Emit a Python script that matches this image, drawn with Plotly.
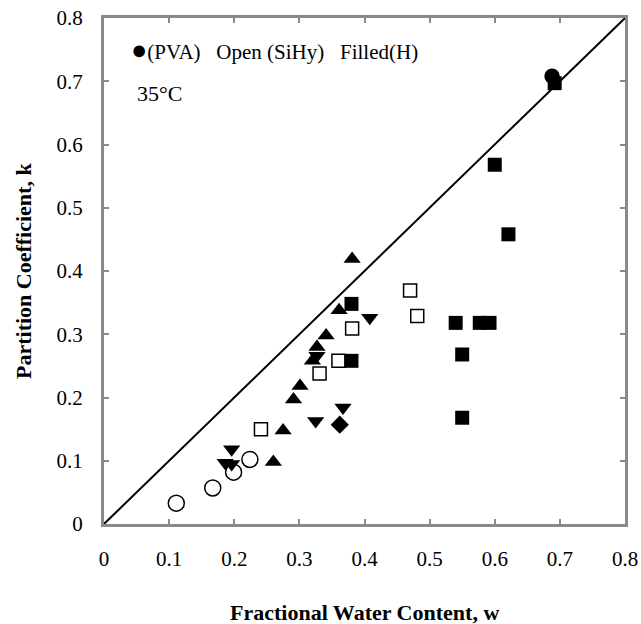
import plotly.graph_objects as go

# Open circles (SiHy, PVA-type)
open_circle_w = [0.111, 0.167, 0.199, 0.224]
open_circle_k = [0.033, 0.057, 0.082, 0.102]
# Filled circle
filled_circle_w = [0.688]
filled_circle_k = [0.708]
# Filled squares
filled_square_w = [0.692, 0.600, 0.621, 0.380, 0.380, 0.540, 0.577, 0.592, 0.550, 0.550]
filled_square_k = [0.697, 0.568, 0.458, 0.348, 0.258, 0.318, 0.318, 0.318, 0.268, 0.168]
# Open squares
open_square_w = [0.470, 0.481, 0.381, 0.360, 0.331, 0.241]
open_square_k = [0.369, 0.329, 0.309, 0.258, 0.238, 0.150]
# Filled up-triangles
up_tri_w = [0.381, 0.361, 0.341, 0.327, 0.320, 0.301, 0.291, 0.275, 0.260]
up_tri_k = [0.419, 0.338, 0.298, 0.280, 0.258, 0.218, 0.197, 0.148, 0.098]
# Filled down-triangles
down_tri_w = [0.408, 0.327, 0.367, 0.325, 0.196, 0.186, 0.196]
down_tri_k = [0.326, 0.266, 0.184, 0.163, 0.118, 0.097, 0.095]
# Filled diamond
diamond_w = [0.362]
diamond_k = [0.157]
# Identity line
line_w = [0, 0.8]
line_k = [0, 0.8]

tick_vals = [0, 0.1, 0.2, 0.3, 0.4, 0.5, 0.6, 0.7, 0.8]
tick_text = ["0", "0.1", "0.2", "0.3", "0.4", "0.5", "0.6", "0.7", "0.8"]

FONT = "Liberation Serif"

fig = go.Figure()
fig.add_trace(go.Scatter(x=line_w, y=line_k, mode="lines",
                         line=dict(color="black", width=2), showlegend=False))


def add(xs, ys, symbol, size, name, lw=1.5):
    fig.add_trace(go.Scatter(x=xs, y=ys, mode="markers", name=name, showlegend=False,
                             marker=dict(symbol=symbol, size=size, color="black",
                                         line=dict(color="black", width=lw))))


add(open_circle_w, open_circle_k, "circle-open", 16, "open circle")
add(filled_circle_w, filled_circle_k, "circle", 14, "filled circle")
add(open_square_w, open_square_k, "square-open", 13, "open square")
add(filled_square_w, filled_square_k, "square", 14, "filled square", 0)
add(up_tri_w, up_tri_k, "triangle-up", 15, "up triangle", 0)
add(down_tri_w, down_tri_k, "triangle-down", 15, "down triangle", 0)
add(diamond_w, diamond_k, "diamond", 14, "diamond", 0)

axis_common = dict(
    range=[0, 0.8], tickvals=tick_vals, ticktext=tick_text,
    showline=True, linecolor="#8a8a8a", linewidth=3, mirror="ticks",
    ticks="inside", ticklen=5, tickcolor="#8a8a8a", tickwidth=1.5,
    showgrid=False, zeroline=False, automargin=False,
    ticklabeloverflow="allow",
    tickfont=dict(family=FONT, size=21, color="black"),
)

fig.update_layout(
    width=641, height=624,
    margin=dict(l=104, r=16, t=18, b=100),
    plot_bgcolor="white", paper_bgcolor="white",
    xaxis=dict(**axis_common, ticklabelstandoff=14),
    yaxis=dict(**axis_common, ticklabelstandoff=14),
    annotations=[
        dict(text="<b>Fractional Water Content, w</b>", x=0.5, y=0, xref="paper", yref="paper",
             xanchor="center", yanchor="middle", yshift=-88, showarrow=False,
             font=dict(family=FONT, size=22, color="black")),
        dict(text="<b>Partition Coefficient, k</b>", x=0, y=0.5, xref="paper", yref="paper",
             xanchor="center", yanchor="middle", xshift=-81, textangle=-90, showarrow=False,
             font=dict(family=FONT, size=22, color="black")),
        dict(text="<span style='font-size:27px'>●</span>(PVA)   Open (SiHy)   Filled(H)",
             x=0.038, y=0.749, xref="x", yref="y",
             xanchor="left", yanchor="middle", showarrow=False,
             font=dict(family=FONT, size=21, color="black")),
        dict(text="35°C", x=0.048, y=0.681, xref="x", yref="y",
             xanchor="left", yanchor="middle", showarrow=False,
             font=dict(family=FONT, size=22, color="black")),
    ],
)

fig.write_html(
    "out.html",
    config={"displayModeBar": False},
    post_script="document.body.style.margin='0';document.body.style.overflow='hidden';",
)
